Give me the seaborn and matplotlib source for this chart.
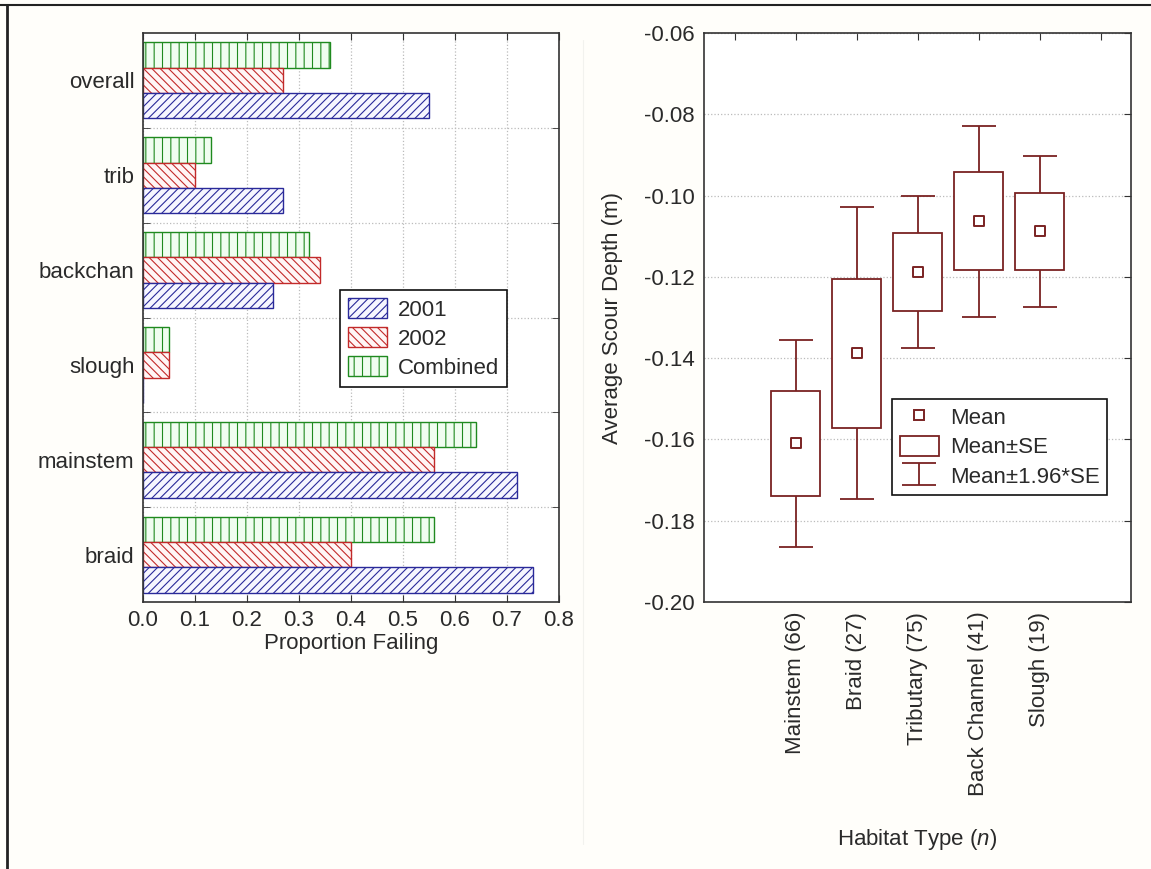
import numpy as np
import pandas as pd
import matplotlib
matplotlib.use('Agg')
import matplotlib.pyplot as plt
import seaborn as sns
from matplotlib.patches import Patch
from matplotlib.lines import Line2D

# left panel: proportion failing by habitat
habitats = ['overall', 'trib', 'backchan', 'slough', 'mainstem', 'braid']
fail_2001 = [0.55, 0.27, 0.25, 0.0, 0.72, 0.75]
fail_2002 = [0.27, 0.10, 0.34, 0.05, 0.56, 0.40]
fail_comb = [0.36, 0.13, 0.32, 0.05, 0.64, 0.56]

# right panel: average scour depth
scour_cats = ['Mainstem (66)', 'Braid (27)', 'Tributary (75)', 'Back Channel (41)', 'Slough (19)']
scour_mean = [-0.1610, -0.1388, -0.1188, -0.1063, -0.1088]
scour_se = [0.0130, 0.0183, 0.0095, 0.0120, 0.0095]

sns.set_style('white')
plt.rcParams['font.family'] = ['Liberation Sans', 'DejaVu Sans']
plt.rcParams['axes.unicode_minus'] = False
plt.rcParams['hatch.linewidth'] = 0.8
plt.rcParams['mathtext.fontset'] = 'custom'
plt.rcParams['mathtext.it'] = 'Liberation Sans:italic'
plt.rcParams['mathtext.rm'] = 'Liberation Sans'

FS = 16
TXT = '#2a2a2a'
SPINE = '#333333'
DARKRED = '#7a2222'

fig = plt.figure(figsize=(11.51, 8.69), dpi=100, facecolor='#fffefa')
W, H = 1151, 869

def px_axes(x0, y0, x1, y1):
    return fig.add_axes([x0 / W, 1 - y1 / H, (x1 - x0) / W, (y1 - y0) / H])

# frame lines of the original screenshot
fig.add_artist(Line2D([0, 1], [1 - 5 / H, 1 - 5 / H], color='#222222', lw=1.5))
fig.add_artist(Line2D([6.5 / W, 6.5 / W], [0, 1 - 5 / H], color='#222222', lw=2))
fig.add_artist(Line2D([583 / W, 583 / W], [25 / H, 1 - 40 / H], color='#f2f2ee', lw=0.8))

# ---------------- left panel ----------------
ax1 = px_axes(143, 33, 559, 602)
ax1.set_facecolor('white')
df = pd.DataFrame({
    'habitat': habitats * 3,
    'year': ['2001'] * 6 + ['2002'] * 6 + ['Combined'] * 6,
    'value': fail_2001 + fail_2002 + fail_comb,
})
hue_order = ['Combined', '2002', '2001']
sns.barplot(data=df, y='habitat', x='value', hue='year', order=habitats,
            hue_order=hue_order, orient='h', width=0.8, errorbar=None,
            legend=False, ax=ax1)

styles = {
    '2001': dict(edge='#2a2a9a', face='#f6f6ff', hatch='////'),
    '2002': dict(edge='#c22a2a', face='#fff5f5', hatch='\\\\\\\\'),
    'Combined': dict(edge='#1f8a1f', face='#f0fdf0', hatch='||'),
}
for cont, lvl in zip(ax1.containers, hue_order):
    st = styles[lvl]
    for p in cont.patches:
        p.set_facecolor(st['face'])
        p.set_edgecolor(st['edge'])
        p.set_hatch(st['hatch'])
        p.set_linewidth(1.0)

ax1.set_xlim(0, 0.8)
ax1.set_ylim(len(habitats) - 0.5, -0.5)
ax1.set_xticks(np.arange(0, 0.81, 0.1))
ax1.set_xticklabels([f'{v:.1f}' for v in np.arange(0, 0.81, 0.1)], fontsize=FS, color=TXT)
ax1.set_yticks(range(len(habitats)))
ax1.set_yticklabels(habitats, fontsize=FS, color=TXT)
ax1.set_yticks(np.arange(0.5, len(habitats) - 0.5, 1), minor=True)
ax1.tick_params(axis='y', which='major', length=0, pad=6)
ax1.tick_params(axis='y', which='minor', direction='in', length=5, left=True, right=True, color=SPINE)
ax1.tick_params(axis='x', which='major', direction='in', length=5, top=True, bottom=True, pad=6, color=SPINE)
ax1.grid(axis='x', which='major', color='#bbbbbb', linestyle=':', linewidth=0.9)
ax1.grid(axis='y', which='minor', color='#bbbbbb', linestyle=':', linewidth=0.9)
ax1.set_axisbelow(True)
ax1.set_xlabel('Proportion Failing', fontsize=FS, color=TXT, labelpad=1)
ax1.set_ylabel('')
for s in ax1.spines.values():
    s.set_visible(True)
    s.set_color(SPINE)
    s.set_linewidth(1.2)

leg_handles = [Patch(facecolor=styles[k]['face'], edgecolor=styles[k]['edge'],
                     hatch=styles[k]['hatch'], label=k) for k in ['2001', '2002', 'Combined']]
leg1 = ax1.legend(handles=leg_handles, loc='upper left', bbox_to_anchor=(0.474, 0.548),
                  fontsize=FS, frameon=True, fancybox=False, framealpha=1,
                  handlelength=1.75, handleheight=1.0, labelspacing=0.3,
                  handletextpad=0.5, borderpad=0.35, borderaxespad=0)
leg1.get_frame().set_edgecolor('#111111')
leg1.get_frame().set_linewidth(1.2)
for t in leg1.get_texts():
    t.set_color(TXT)

# ---------------- right panel ----------------
ax2 = px_axes(704, 33, 1131, 602)
ax2.set_facecolor('white')
xpos = np.arange(1, len(scour_cats) + 1)
mean = np.array(scour_mean)
se = np.array(scour_se)

whisk = ax2.errorbar(xpos, mean, yerr=1.96 * se, fmt='none', ecolor=DARKRED,
                     elinewidth=1.3, capsize=12, capthick=1.3, zorder=2)
ax2.bar(xpos, 2 * se, bottom=mean - se, width=0.8, facecolor='white',
        edgecolor=DARKRED, linewidth=1.3, zorder=3)
sns.scatterplot(x=xpos, y=mean, marker='s', s=60, facecolor='white',
                edgecolor=DARKRED, linewidth=1.4, zorder=4, ax=ax2)

ax2.set_xlim(-0.5, len(scour_cats) + 1.5)
ax2.set_ylim(-0.20, -0.06)
ax2.set_xticks(range(len(scour_cats) + 2))
ax2.set_xticklabels([''] + scour_cats + [''], rotation=90, fontsize=FS, color=TXT)
yt = np.arange(-0.20, -0.0599, 0.02)
ax2.set_yticks(yt)
ax2.set_yticklabels([f'{v:.2f}' for v in yt], fontsize=FS, color=TXT)
ax2.tick_params(direction='in', length=5, top=True, right=True, color=SPINE, pad=7)
ax2.grid(axis='y', color='#bbbbbb', linestyle=':', linewidth=0.9)
ax2.set_axisbelow(True)
ax2.set_xlabel(r'Habitat Type ($\mathit{n}$)', fontsize=FS, color=TXT, labelpad=22)
ax2.set_ylabel('Average Scour Depth (m)', fontsize=FS, color=TXT, labelpad=15)
for s in ax2.spines.values():
    s.set_visible(True)
    s.set_color(SPINE)
    s.set_linewidth(1.2)

mean_h = Line2D([], [], marker='s', markersize=7.5, markerfacecolor='white',
                markeredgecolor=DARKRED, markeredgewidth=1.4, linestyle='none')
box_h = Patch(facecolor='white', edgecolor=DARKRED, linewidth=1.3)
leg2 = ax2.legend([mean_h, box_h, whisk], ['Mean', 'Mean\u00b1SE', 'Mean\u00b11.96*SE'],
                  loc='upper left', bbox_to_anchor=(0.44, 0.357), fontsize=FS,
                  frameon=True, fancybox=False, framealpha=1,
                  handlelength=1.75, handleheight=1.0, labelspacing=0.3,
                  handletextpad=0.5, borderpad=0.35, borderaxespad=0)
leg2.get_frame().set_edgecolor('#111111')
leg2.get_frame().set_linewidth(1.2)
for t in leg2.get_texts():
    t.set_color(TXT)

fig.savefig('out.png', dpi=100, facecolor=fig.get_facecolor())
